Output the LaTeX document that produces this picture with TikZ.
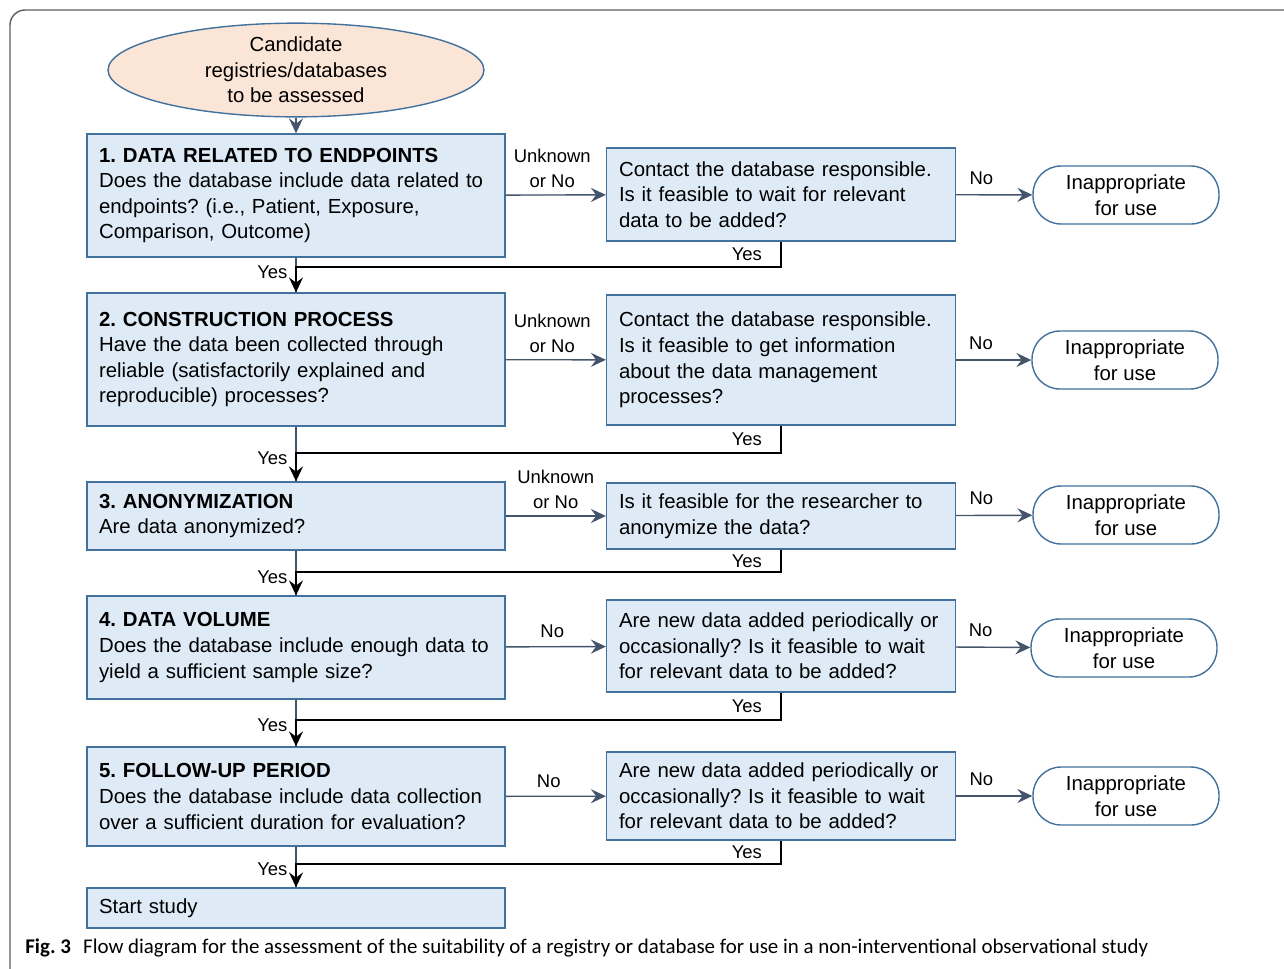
\documentclass[tikz,border=0pt]{standalone}
\usepackage{fontspec}
\setmainfont{Liberation Sans}
\newfontfamily\capfont{Carlito}
\usepackage{xcolor}
\usepackage{tikz}
\usetikzlibrary{arrows.meta,shapes.geometric}
\definecolor{boxfill}{HTML}{DEEBF7}
\definecolor{boxline}{HTML}{41719C}
\definecolor{ovalfill}{HTML}{FBE5D6}
\definecolor{arrowc}{HTML}{44546A}
\definecolor{framec}{HTML}{5E5E5E}
\frenchspacing

\begin{document}
\begin{tikzpicture}[x=0.02cm, y=-0.02cm, >={Stealth[length=8.5pt, width=8pt, inset=3pt]},
    every node/.style={font=\fontsize{11.6pt}{14.6pt}\selectfont},
    oval/.style={ellipse, draw=boxline, fill=ovalfill, line width=0.8pt, minimum width=7.52cm, minimum height=1.68cm, inner sep=0pt, align=center},
    ask/.style={draw=boxline, fill=boxfill, line width=0.8pt, align=left, inner xsep=0.24cm, inner ysep=0pt, text width=7.88cm},
    contact/.style={draw=boxline, fill=boxfill, line width=0.8pt, align=left, inner xsep=0.25cm, inner ysep=0pt, text width=6.48cm},
    stop/.style={draw=boxline, fill=white, line width=0.8pt, rounded corners=0.56cm, minimum width=3.72cm, minimum height=1.16cm, align=center},
    flow/.style={->, draw=arrowc, fill=arrowc, line width=0.8pt},
    yesline/.style={->, black, line width=0.75pt},
    lbl/.style={font=\fontsize{10.5pt}{14.6pt}\selectfont, align=center, inner sep=1.5pt}]
  \useasboundingbox (0,0) rectangle (1284,968);
  \draw[framec, line width=0.8pt, rounded corners=0.3cm] (10,10) rectangle (1320,1010);

  \node[oval] (cand) at (296,70) {Candidate\\registries/databases\\to be assessed};

  \node[ask, minimum height=2.46cm] (q1) at (296,195.5)
    {\textbf{1. DATA RELATED TO ENDPOINTS}\\Does the database include data related to\\endpoints? (i.e., Patient, Exposure,\\Comparison, Outcome)};
  \node[ask, minimum height=2.66cm] (q2) at (296,359.5)
    {\textbf{2. CONSTRUCTION PROCESS}\\Have the data been collected through\\reliable (satisfactorily explained and\\reproducible) processes?};
  \node[ask, minimum height=1.36cm] (q3) at (296,516)
    {\textbf{3. ANONYMIZATION}\\Are data anonymized?};
  \node[ask, minimum height=2.06cm] (q4) at (296,647.5)
    {\textbf{4. DATA VOLUME}\\Does the database include enough data to\\yield a sufficient sample size?};
  \node[ask, minimum height=1.98cm] (q5) at (296,796.5)
    {\textbf{5. FOLLOW-UP PERIOD}\\Does the database include data collection\\over a sufficient duration for evaluation?};
  \node[ask, minimum height=0.8cm] (go) at (296,908) {Start study};

  \node[contact, minimum height=1.86cm] (c1) at (781,194.5)
    {Contact the database responsible.\\Is it feasible to wait for relevant\\data to be added?};
  \node[contact, minimum height=2.6cm] (c2) at (781,360)
    {Contact the database responsible.\\Is it feasible to get information\\about the data management\\processes?};
  \node[contact, minimum height=1.32cm] (c3) at (781,516)
    {Is it feasible for the researcher to\\anonymize the data?};
  \node[contact, minimum height=1.84cm] (c4) at (781,646)
    {Are new data added periodically or\\occasionally? Is it feasible to wait\\for relevant data to be added?};
  \node[contact, minimum height=1.76cm] (c5) at (781,796)
    {Are new data added periodically or\\occasionally? Is it feasible to wait\\for relevant data to be added?};

  \node[stop] (s1) at (1126,195) {Inappropriate\\for use};
  \node[stop] (s2) at (1125,360) {Inappropriate\\for use};
  \node[stop] (s3) at (1126,515) {Inappropriate\\for use};
  \node[stop] (s4) at (1124,648) {Inappropriate\\for use};
  \node[stop] (s5) at (1126,796) {Inappropriate\\for use};

  \draw[flow] (cand) -- (q1);
  \foreach \a/\b in {q1/q2, q2/q3, q3/q4, q4/q5, q5/go}
    \draw[arrowc, line width=0.8pt] (\a) -- (\b);

  \draw[flow] (q1) -- node[lbl, above=2pt, xshift=-2pt]{Unknown\\or No} (c1);
  \draw[flow] (q2) -- node[lbl, above=2pt, xshift=-2pt]{Unknown\\or No} (c2);
  \draw[flow] (q3) -- node[lbl, above=2pt]{Unknown\\or No} (c3);
  \draw[flow] (q4) -- node[lbl, above=3pt, xshift=-2pt]{No} (c4);
  \draw[flow] (q5) -- node[lbl, above=3pt, xshift=-4pt]{No} (c5);

  \foreach \i in {1,...,5}
    \draw[flow] (c\i) -- node[lbl, above=4pt, pos=0.33]{No} (s\i);

  \foreach \c/\q/\y in {c1/q2/267, c2/q3/453, c3/q4/572, c4/q5/720, c5/go/864}
    \draw[yesline] (\c.south) -- node[lbl, left=9pt]{Yes} (\c.south |- 0,\y)
      -| node[lbl, pos=0.5, anchor=east, xshift=-3pt, yshift=-3pt]{Yes} (\q.north);

  \node[anchor=west, inner sep=0pt, font=\capfont\fontsize{11.9pt}{14pt}\selectfont] (cap) at (25,948)
    {\textbf{Fig. 3}\hspace{7pt}Flow diagram for the assessment of the suitability of a registry or database for use in a non-interventional observational study};
\end{tikzpicture}
\end{document}
